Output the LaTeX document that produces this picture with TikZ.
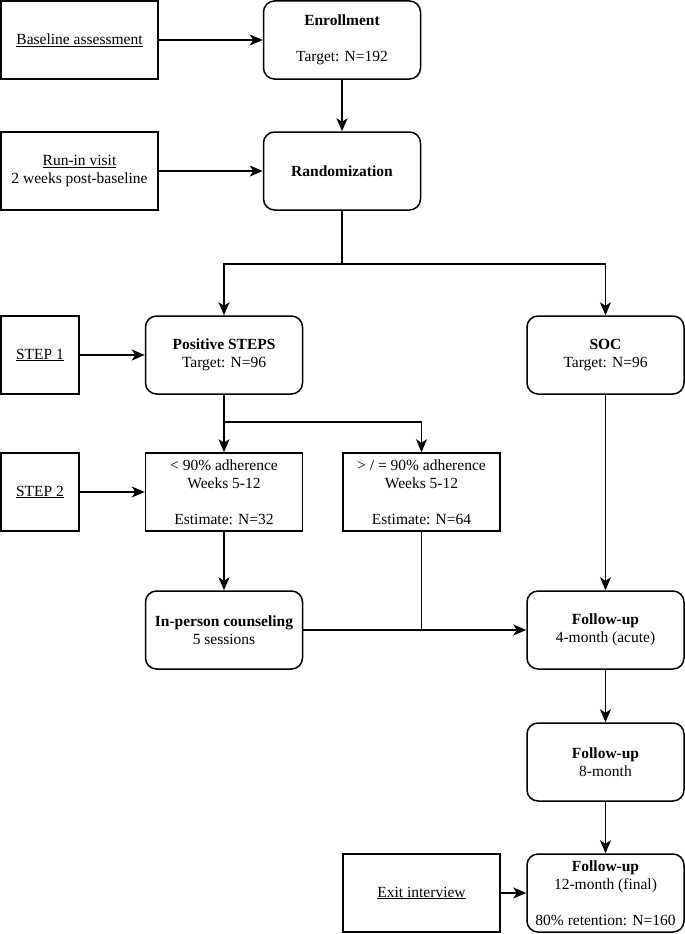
\documentclass[tikz,border=0pt]{standalone}
\usepackage{fontspec}
\setmainfont{Liberation Serif}
\usepackage{tikz}
\usetikzlibrary{arrows.meta,positioning,calc}

\begin{document}
\begin{tikzpicture}[x=1pt, y=-1pt,
    box/.style={rectangle, draw, line width=1.5pt, minimum width=157pt, minimum height=78pt, font=\fontsize{15.5}{18}\selectfont, align=center},
    rbox/.style={box, rounded corners=11pt},
    sbox/.style={box, minimum width=78pt},
    arr/.style={-{Stealth[length=13pt, width=11pt, inset=3.5pt]}, line width=1.5pt},
    lin/.style={line width=1.5pt}
]
\useasboundingbox (0,0) rectangle (685,934);

% left side inputs
\node[box] (base) at (79.5,40) {\underline{Baseline assessment}};
\node[box] (runin) at (79.5,171) {\underline{Run-in visit}\\2 weeks post-baseline};
\node[sbox] (step1) at (40,355) {\underline{STEP 1}};
\node[sbox] (step2) at (40,492) {\underline{STEP 2}};
\node[box] (exitint) at (421.5,893) {\underline{Exit interview}};

% main flow
\node[rbox] (enrol) at (342,40) {\textbf{Enrollment}\\[18pt]Target: N=192};
\node[rbox] (rand) at (342,171) {\textbf{Randomization}};
\node[rbox] (pos) at (224,355) {\textbf{Positive STEPS}\\Target: N=96};
\node[rbox] (soc) at (605.5,355) {\textbf{SOC}\\Target: N=96};
\node[box] (low) at (224,492) {< 90\% adherence\\Weeks 5-12\\[18pt]Estimate: N=32};
\node[box] (high) at (421.5,492) {> / = 90\% adherence\\Weeks 5-12\\[18pt]Estimate: N=64};
\node[rbox] (couns) at (224,630) {\textbf{In-person counseling}\\5 sessions};
\node[rbox] (fu4) at (605.5,630) {\textbf{Follow-up}\\4-month (acute)};
\node[rbox] (fu8) at (605.5,762) {\textbf{Follow-up}\\8-month};
\node[rbox] (fu12) at (605.5,893) {\textbf{Follow-up}\\12-month (final)\\[18pt]80\% retention: N=160};

\coordinate (join) at (high.south |- couns.east);

% connectors
\draw[arr] (base) -- (enrol);
\draw[arr] (enrol) -- (rand);
\draw[arr] (runin) -- (rand);
\draw[arr] (rand.south) -- ++(0,53) -| (pos.north);
\draw[arr] (rand.south) -- ++(0,53) -| (soc.north);
\draw[arr] (step1) -- (pos);
\draw[arr] (pos.south) -- ++(0,27) -| (high.north);
\draw[arr] (pos) -- (low);
\draw[arr] (step2) -- (low);
\draw[arr] (low) -- (couns);
\draw[lin] (high) -- (join);
\draw[arr] (couns) -- (fu4);
\draw[arr] (soc) -- (fu4);
\draw[arr] (fu4) -- (fu8);
\draw[arr] (fu8) -- (fu12);
\draw[arr] (exitint) -- (fu12);
\end{tikzpicture}
\end{document}
